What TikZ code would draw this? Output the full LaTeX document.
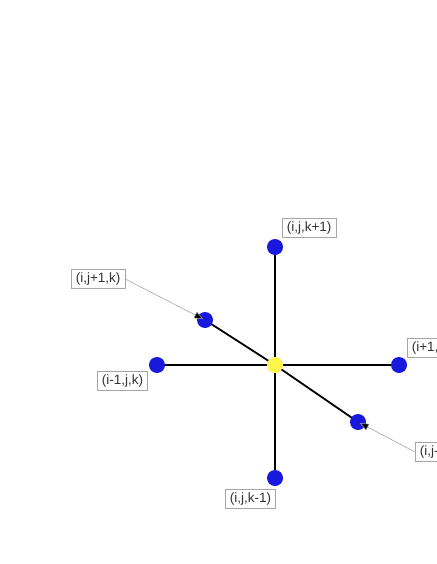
\documentclass[tikz,border=0pt]{standalone}
\usepackage{fontspec}
\setmainfont{Liberation Sans}
\usetikzlibrary{arrows.meta}
\begin{document}
\begin{tikzpicture}[x=1pt,y=-1pt,
  pt/.style={circle,fill=blue!85!black!90!white,minimum size=16pt,inner sep=0pt},
  ctr/.style={circle,fill=yellow!70!white,minimum size=16pt,inner sep=0pt},
  lbl/.style={draw=black!35,line width=0.6pt,fill=white,font=\fontsize{13.5pt}{15pt}\selectfont,inner xsep=4.5pt,inner ysep=3pt,text=black!80},
  edge/.style={line width=1.8pt,black},
  ptr/.style={draw=black!40,line width=0.5pt,-{Triangle[length=9pt,width=7pt,fill=black]},shorten >=2pt}]
\useasboundingbox (0,0) rectangle (436,564);
\coordinate (c) at (275,365);
\coordinate (pt) at (275,247);
\coordinate (pb) at (275,478);
\coordinate (pl) at (157,365);
\coordinate (pr) at (399,365);
\coordinate (pul) at (205,320);
\coordinate (plr) at (358,422);
\draw[edge] (c) -- (pt);
\draw[edge] (c) -- (pb);
\draw[edge] (c) -- (pl);
\draw[edge] (c) -- (pr);
\draw[edge] (c) -- (pul);
\draw[edge] (c) -- (plr);
\node[pt] (nt) at (pt) {};
\node[pt] (nb) at (pb) {};
\node[pt] (nl) at (pl) {};
\node[pt] (nr) at (pr) {};
\node[pt] (nul) at (pul) {};
\node[pt] (nlr) at (plr) {};
\node[ctr] (nc) at (c) {};
\node[lbl,anchor=west] (lt) at (282,228) {(i,j,k+1)};
\node[lbl,anchor=west] (lul) at (71,279) {(i,j+1,k)};
\node[lbl,anchor=west] (ll) at (97,381) {(i-1,j,k)};
\node[lbl,anchor=west] (lb) at (225,499) {(i,j,k-1)};
\node[lbl,anchor=west] (lr) at (407,348) {(i+1,j,k)};
\node[lbl,anchor=west] (llr) at (415,452) {(i,j-1,k)};
\draw[ptr] (lul.east) -- (nul.center);
\draw[ptr] (llr.west) -- (nlr.center);
\end{tikzpicture}
\end{document}
